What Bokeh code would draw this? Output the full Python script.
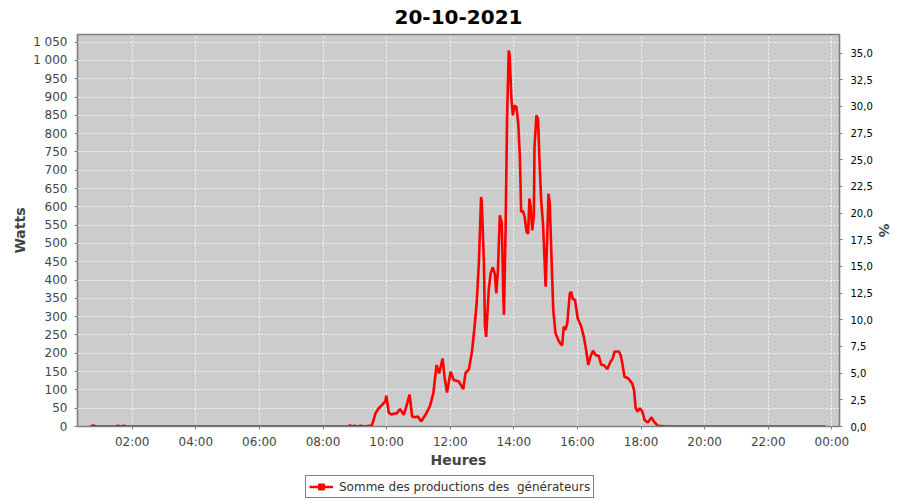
from bokeh.plotting import figure
from bokeh.layouts import column
from bokeh.models import Range1d, LinearAxis, FixedTicker, Legend, LegendItem
from bokeh.embed import file_html
from bokeh.resources import INLINE

# ---- data (hours of day, Watts) ----
hours = [0.69, 0.78, 0.85, 1.2, 1.5, 1.55, 1.62, 1.75, 1.8, 2.2, 2.8, 3.4, 4.0, 4.6, 5.2,
         5.8, 6.4, 7.0, 7.6, 8.2, 8.8, 8.85, 8.9, 9.0, 9.05, 9.2, 9.3, 9.45, 9.52,
         9.58, 9.65, 9.75, 9.86, 9.92, 9.96, 9.99, 10.03, 10.07, 10.15, 10.23, 10.33,
         10.42, 10.54, 10.65, 10.72, 10.76, 10.80, 10.90, 10.98, 11.09, 11.22, 11.36,
         11.47, 11.57, 11.65, 11.76, 11.82, 11.90, 12.01, 12.11, 12.27, 12.41, 12.48,
         12.59, 12.69, 12.77, 12.83, 12.90, 12.97, 12.99, 13.06, 13.09, 13.13, 13.21,
         13.27, 13.34, 13.40, 13.45, 13.50, 13.56, 13.62, 13.67, 13.69, 13.74, 13.79,
         13.84, 13.87, 13.92, 13.97, 14.02, 14.08, 14.14, 14.19, 14.23, 14.28, 14.34,
         14.40, 14.45, 14.49, 14.53, 14.58, 14.63, 14.65, 14.71, 14.76, 14.81, 14.86,
         14.92, 15.00, 15.05, 15.09, 15.13, 15.19, 15.24, 15.31, 15.42, 15.49, 15.52,
         15.57, 15.62, 15.68, 15.76, 15.80, 15.86, 15.92, 16.01, 16.12, 16.20, 16.28,
         16.34, 16.41, 16.49, 16.57, 16.67, 16.75, 16.83, 16.94, 17.04, 17.11, 17.17,
         17.30, 17.36, 17.41, 17.48, 17.59, 17.72, 17.78, 17.83, 17.89, 17.96, 18.04,
         18.11, 18.21, 18.33, 18.40, 18.53, 18.8, 19.2, 19.6, 20.0, 20.4, 20.8, 21.2,
         21.6, 22.0, 22.4, 22.8, 23.2, 23.8]
watts = [0, 3, 0, 0, 0, 2, 0, 2, 0, 0, 0, 0, 0, 0, 0,
         0, 0, 0, 0, 0, 0, 3, 0, 2, 0, 2, 0, 2, 0,
         15, 36, 50, 59, 65, 70, 84, 60, 37, 33, 35, 37,
         48, 32, 64, 87, 60, 27, 25, 27, 14, 32, 55,
         91, 168, 145, 186, 136, 93, 150, 127, 123, 102, 146,
         157, 209, 277, 336, 446, 627, 618, 446, 277, 245, 373,
         418, 435, 418, 364, 427, 577, 557, 355, 305, 536, 855,
         1027, 1014, 900, 850, 877, 873, 827, 736, 586, 590, 573,
         532, 527, 623, 600, 536, 577, 764, 850, 841, 718, 618,
         550, 382, 518, 636, 609, 446, 318, 255, 232, 223, 223,
         273, 264, 282, 364, 368, 347, 347, 295, 273, 245, 205,
         168, 191, 207, 195, 193, 168, 168, 157, 177, 186, 205,
         205, 195, 173, 136, 132, 118, 100, 50, 41, 50, 41,
         18, 11, 25, 14, 2, 0, 0, 0, 0, 0, 0, 0,
         0, 0, 0, 0, 0, 0]

x_ticks = [2, 4, 6, 8, 10, 12, 14, 16, 18, 20, 22, 24]
x_tick_labels = ["02:00", "04:00", "06:00", "08:00", "10:00", "12:00",
                 "14:00", "16:00", "18:00", "20:00", "22:00", "00:00"]
w_ticks = list(range(0, 1051, 50))
w_tick_labels = [f"{t:,}".replace(",", "\u00a0") for t in w_ticks]
pct_ticks = [0, 2.5, 5, 7.5, 10, 12.5, 15, 17.5, 20, 22.5, 25, 27.5, 30, 32.5, 35]
pct_tick_labels = [f"{t:.1f}".replace(".", ",") for t in pct_ticks]

title_text = "20-10-2021"
series_label = "Somme des productions des  générateurs"

FONT = "DejaVu Sans"

p = figure(width=900, height=470, output_backend="svg", toolbar_location=None,
           x_range=Range1d(0.28, 24.24), y_range=Range1d(0, 1071),
           min_border_left=77, min_border_right=61, min_border_top=34,
           min_border_bottom=43)

p.title.text = title_text
p.title.align = "center"
p.title.vertical_align = "top"
p.title.text_font = FONT
p.title.text_font_size = "20px"
p.title.text_font_style = "bold"
p.title.text_color = "black"
p.title.standoff = 18
p.title.offset = 0
p.title.text_line_height = 0.7

p.background_fill_color = "#cccccc"
p.border_fill_color = "white"
p.outline_line_color = "#808080"
p.outline_line_width = 1.5

r = p.line(hours, watts, line_color="red", line_width=2.6)

# x axis
p.xaxis.ticker = FixedTicker(ticks=x_ticks)
p.xaxis.major_label_overrides = dict(zip(x_ticks, x_tick_labels))
p.xaxis.axis_label = "Heures"
# left axis
p.yaxis.ticker = FixedTicker(ticks=w_ticks)
p.yaxis.major_label_overrides = dict(zip(w_ticks, w_tick_labels))
p.yaxis.axis_label = "Watts"

p.extra_y_ranges = {"pct": Range1d(0, 36.74)}
ax_r = LinearAxis(y_range_name="pct", ticker=FixedTicker(ticks=pct_ticks),
                  major_label_overrides=dict(zip(pct_ticks, pct_tick_labels)),
                  axis_label="%")
p.add_layout(ax_r, "right")

for ax in p.axis:
    ax.axis_line_color = "#808080"
    ax.axis_line_width = 1.2
    ax.major_tick_line_color = "#808080"
    ax.major_tick_in = 0
    ax.major_tick_out = 3
    ax.minor_tick_line_color = None
    ax.major_label_text_font = FONT
    ax.major_label_text_font_size = "12px"
    ax.major_label_text_color = "#444444"
    ax.major_label_standoff = 7
    ax.axis_label_text_font = FONT
    ax.axis_label_text_font_size = "14px"
    ax.axis_label_text_font_style = "bold"
    ax.axis_label_text_color = "#444444"
    ax.axis_label_standoff = 2

p.xaxis.major_label_standoff = 5
p.xaxis.axis_label_standoff = 0
ax_r.major_label_text_font_size = "10px"
ax_r.major_label_text_color = "black"
ax_r.major_label_standoff = 8
ax_r.axis_label_standoff = 0

p.xgrid.ticker = FixedTicker(ticks=x_ticks)
p.ygrid.ticker = FixedTicker(ticks=w_ticks)
for g in (p.xgrid, p.ygrid):
    g.grid_line_color = "white"
    g.grid_line_alpha = 0.85
    g.grid_line_dash = "2 2"
    g.grid_line_width = 1

# ---- legend strip below the chart ----
pl = figure(width=900, height=30, output_backend="svg", toolbar_location=None,
            x_range=Range1d(0, 1), y_range=Range1d(0, 1),
            min_border_left=0, min_border_right=0, min_border_top=0,
            min_border_bottom=0)
pl.axis.visible = False
pl.grid.visible = False
pl.outline_line_color = None
pl.background_fill_color = "white"
pl.border_fill_color = "white"
# legend-key renderers (their points lie outside this strip's ranges)
lr = pl.line(x=[5, 6], y=[5, 5], line_color="red", line_width=2.5)
sr = pl.scatter(x=[5], y=[5], marker="square", size=3, fill_color="red", line_color="red")

legend = Legend(items=[LegendItem(label=series_label, renderers=[lr, sr])],
                location=(228, 2), orientation="horizontal")
legend.label_text_font = FONT
legend.label_text_font_size = "12px"
legend.label_text_color = "#333333"
legend.border_line_color = "black"
legend.border_line_width = 1
legend.padding = 3
legend.margin = 0
legend.spacing = 0
legend.glyph_width = 24
legend.glyph_height = 15
legend.label_height = 15
legend.label_standoff = 6
legend.background_fill_color = "white"
pl.add_layout(legend, "center")

layout = column(p, pl, spacing=0)
open("out.html", "w").write(file_html(layout, INLINE))
